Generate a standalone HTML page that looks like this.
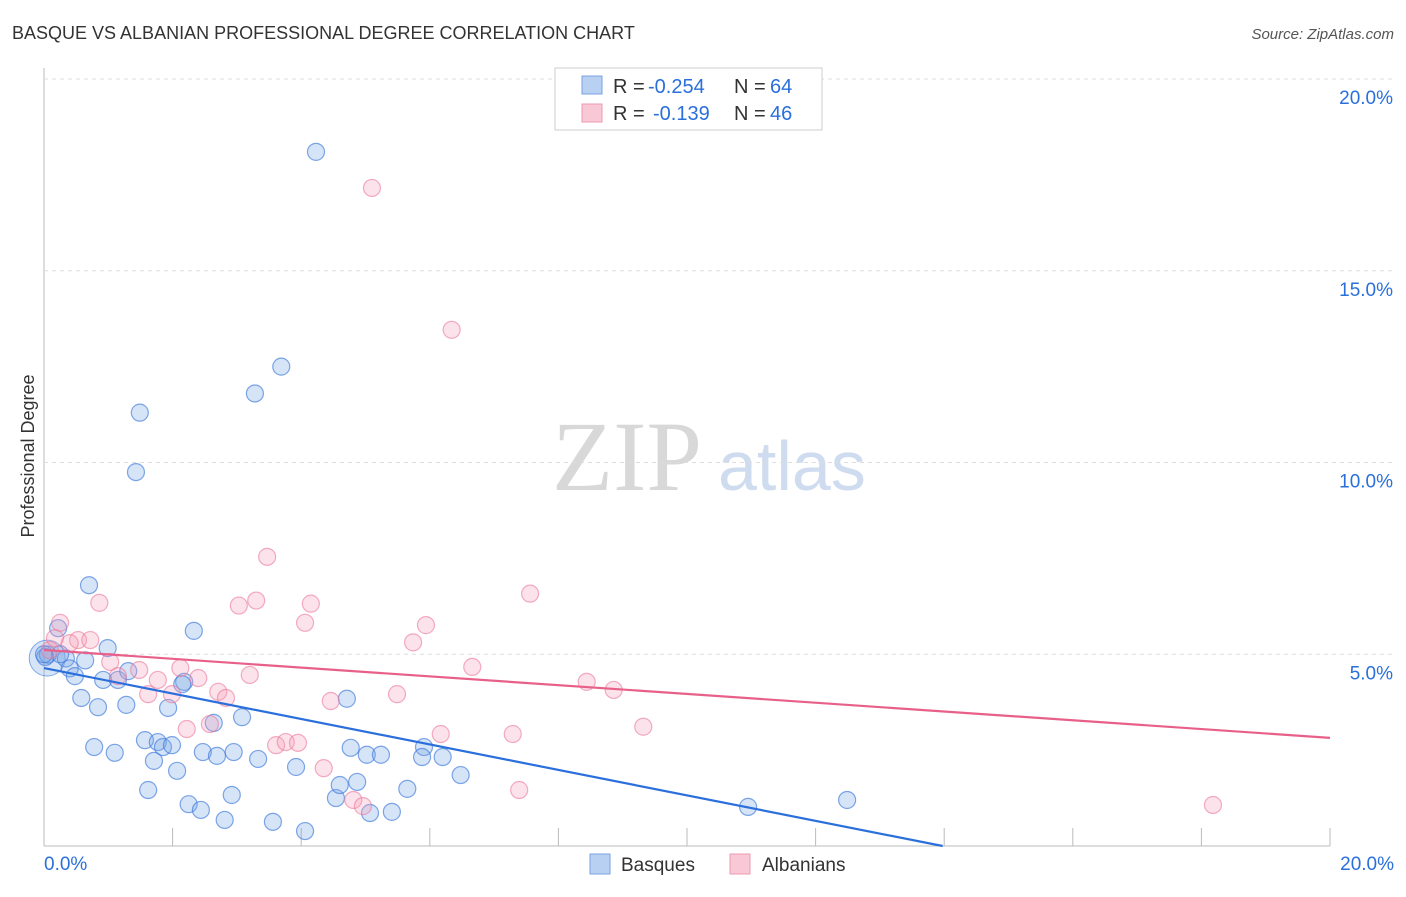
<!DOCTYPE html>
<html><head><meta charset="utf-8"><style>
body{margin:0;background:#fff;font-family:"Liberation Sans",sans-serif;}
</style></head><body>
<svg id="c" width="1406" height="892" xmlns="http://www.w3.org/2000/svg">
<text x="12" y="39" font-size="18" fill="#333">BASQUE VS ALBANIAN PROFESSIONAL DEGREE CORRELATION CHART</text>
<text x="1394" y="39" font-size="15" fill="#555" font-style="italic" text-anchor="end">Source: ZipAtlas.com</text>
<text x="34" y="456" font-size="18" fill="#333" transform="rotate(-90 34 456)" text-anchor="middle">Professional Degree</text>
<text x="552" y="490" font-size="100" fill="#d8d8d8" font-family="Liberation Serif,serif">ZIP</text>
<text x="718" y="490" font-size="70" fill="#cfdcef">atlas</text>
<g id="grid"></g><g id="pts"></g><g id="lines"></g>
<g>
<rect x="555" y="68" width="267" height="62" fill="#fff" stroke="#ccc"/>
<rect x="582" y="76" width="20" height="18" fill="#b8d0f2" stroke="#7aa3e0"/>
<rect x="582" y="104" width="20" height="18" fill="#f9c8d6" stroke="#ee9ab2"/>
<text x="613" y="93" font-size="20" fill="#333">R =</text>
<text x="648" y="93" font-size="20" fill="#2a6fdb">-0.254</text>
<text x="734" y="93" font-size="20" fill="#333">N =</text>
<text x="770" y="93" font-size="20" fill="#2a6fdb">64</text>
<text x="613" y="120" font-size="20" fill="#333">R =</text>
<text x="653" y="120" font-size="20" fill="#2a6fdb">-0.139</text>
<text x="734" y="120" font-size="20" fill="#333">N =</text>
<text x="770" y="120" font-size="20" fill="#2a6fdb">46</text>
</g>
<g>
<rect x="590" y="854" width="20" height="20" fill="#b8d0f2" stroke="#7aa3e0"/>
<text x="621" y="871" font-size="19" fill="#333">Basques</text>
<rect x="730" y="854" width="20" height="20" fill="#f9c8d6" stroke="#ee9ab2"/>
<text x="762" y="871" font-size="19" fill="#333">Albanians</text>
</g>
</svg>
<script>
const blueX=[4.23,3.69,3.28,1.49,1.43,0.70,0.22,0.99,2.33,0.06,0.34,0.64,0.40,0.48,0.92,1.15,1.31,2.18,2.15,0.58,0.84,1.28,1.93,3.08,2.64,4.71,0.78,1.10,1.57,1.77,1.85,1.99,1.71,2.47,2.69,2.95,3.33,4.77,5.02,5.24,5.91,5.88,6.20,3.92,2.07,6.48,1.62,2.92,2.25,2.44,2.81,3.56,4.06,4.54,4.60,4.87,5.07,5.41,5.65,10.95,12.49,0.02,0.0,0.25];
const blueY=[18.1,12.5,11.8,11.3,9.75,6.8,5.68,5.16,5.61,4.99,4.89,4.84,4.63,4.43,4.33,4.33,4.56,4.28,4.22,3.86,3.62,3.68,3.6,3.36,3.21,3.84,2.58,2.43,2.76,2.71,2.58,2.63,2.22,2.45,2.35,2.45,2.27,2.56,2.38,2.38,2.58,2.32,2.32,2.06,1.96,1.85,1.46,1.33,1.09,0.94,0.68,0.63,0.39,1.25,1.59,1.67,0.86,0.89,1.49,1.02,1.2,4.93,5.0,5.0];
const pinkX=[5.1,6.34,3.47,7.56,0.86,0.25,3.3,3.03,4.15,4.06,5.94,5.74,0.53,0.72,0.40,0.09,1.03,1.48,2.12,2.4,3.2,6.66,1.15,1.77,1.62,1.99,2.71,2.83,4.46,5.49,8.44,8.86,9.32,7.29,6.17,2.58,2.22,3.61,3.76,3.95,4.35,4.81,4.96,7.39,18.18,0.17];
const pinkY=[17.16,13.46,7.54,6.58,6.34,5.82,6.4,6.27,6.32,5.82,5.76,5.31,5.37,5.37,5.29,5.11,4.8,4.59,4.64,4.38,4.46,4.67,4.43,4.33,3.96,3.96,4.02,3.86,3.78,3.96,4.28,4.07,3.11,2.92,2.92,3.18,3.05,2.63,2.71,2.69,2.03,1.2,1.04,1.46,1.07,5.42];
const yTicks=[5,10,15,20];
const trendBlue=[4.64,-0.332];
const trendPink=[5.11,-0.1145];
const X=v=>44+v*64.3, Y=v=>846-v*38.35;
const NS="http://www.w3.org/2000/svg";
function mk(p,t,a){const e=document.createElementNS(NS,t);for(const k in a)e.setAttribute(k,a[k]);p.appendChild(e);return e;}
const g=document.getElementById('grid');
const ax=mk(g,'line',{x1:44,y1:68,x2:44,y2:846,stroke:'#bbb'});


const bx=mk(g,'line',{x1:44,y1:846,x2:1330,y2:846,stroke:'#bbb'});


for(let i=0;i<=10;i++){const t=mk(g,'line',{x1:44+i*128.6,y1:828,x2:44+i*128.6,y2:846,stroke:'#bbb'});

}
yTicks.forEach(v=>{const l=mk(g,'line',{x1:44,x2:1394,y1:Y(v),y2:Y(v),stroke:'#ddd','stroke-dasharray':'4 4'});


const t=mk(g,'text',{x:1393,y:Y(v)+25,'font-size':19,fill:'#2a6fdb','text-anchor':'end'});t.textContent=v.toFixed(1)+'%';

});
const x0=mk(g,'text',{x:44,y:870,'font-size':19,fill:'#2a6fdb'});x0.textContent='0.0%';


const x1=mk(g,'text',{x:1394,y:870,'font-size':19,fill:'#2a6fdb','text-anchor':'end'});x1.textContent='20.0%';


const P=document.getElementById('pts');
const big=mk(P,'circle',{cx:X(0.05),cy:Y(4.9),r:18,fill:'rgba(120,165,230,0.3)',stroke:'rgba(60,120,220,0.6)'});


blueX.forEach((v,i)=>{const c=mk(P,'circle',{cx:X(v),cy:Y(blueY[i]),r:8.5,fill:'rgba(120,165,230,0.3)',stroke:'rgba(60,120,220,0.65)','stroke-width':1.2});

});
pinkX.forEach((v,i)=>{const c=mk(P,'circle',{cx:X(v),cy:Y(pinkY[i]),r:8.5,fill:'rgba(245,160,185,0.3)',stroke:'rgba(235,120,155,0.6)','stroke-width':1.2});

});
const L=document.getElementById('lines');
const xe=-trendBlue[0]/trendBlue[1];
const lb=mk(L,'line',{x1:X(0),y1:Y(trendBlue[0]),x2:X(xe),y2:Y(0),stroke:'#2a6fdb','stroke-width':2.2});


const lp=mk(L,'line',{x1:X(0),y1:Y(trendPink[0]),x2:X(20),y2:Y(trendPink[0]+20*trendPink[1]),stroke:'#e8608a','stroke-width':2.2});


</script>
</body></html>
